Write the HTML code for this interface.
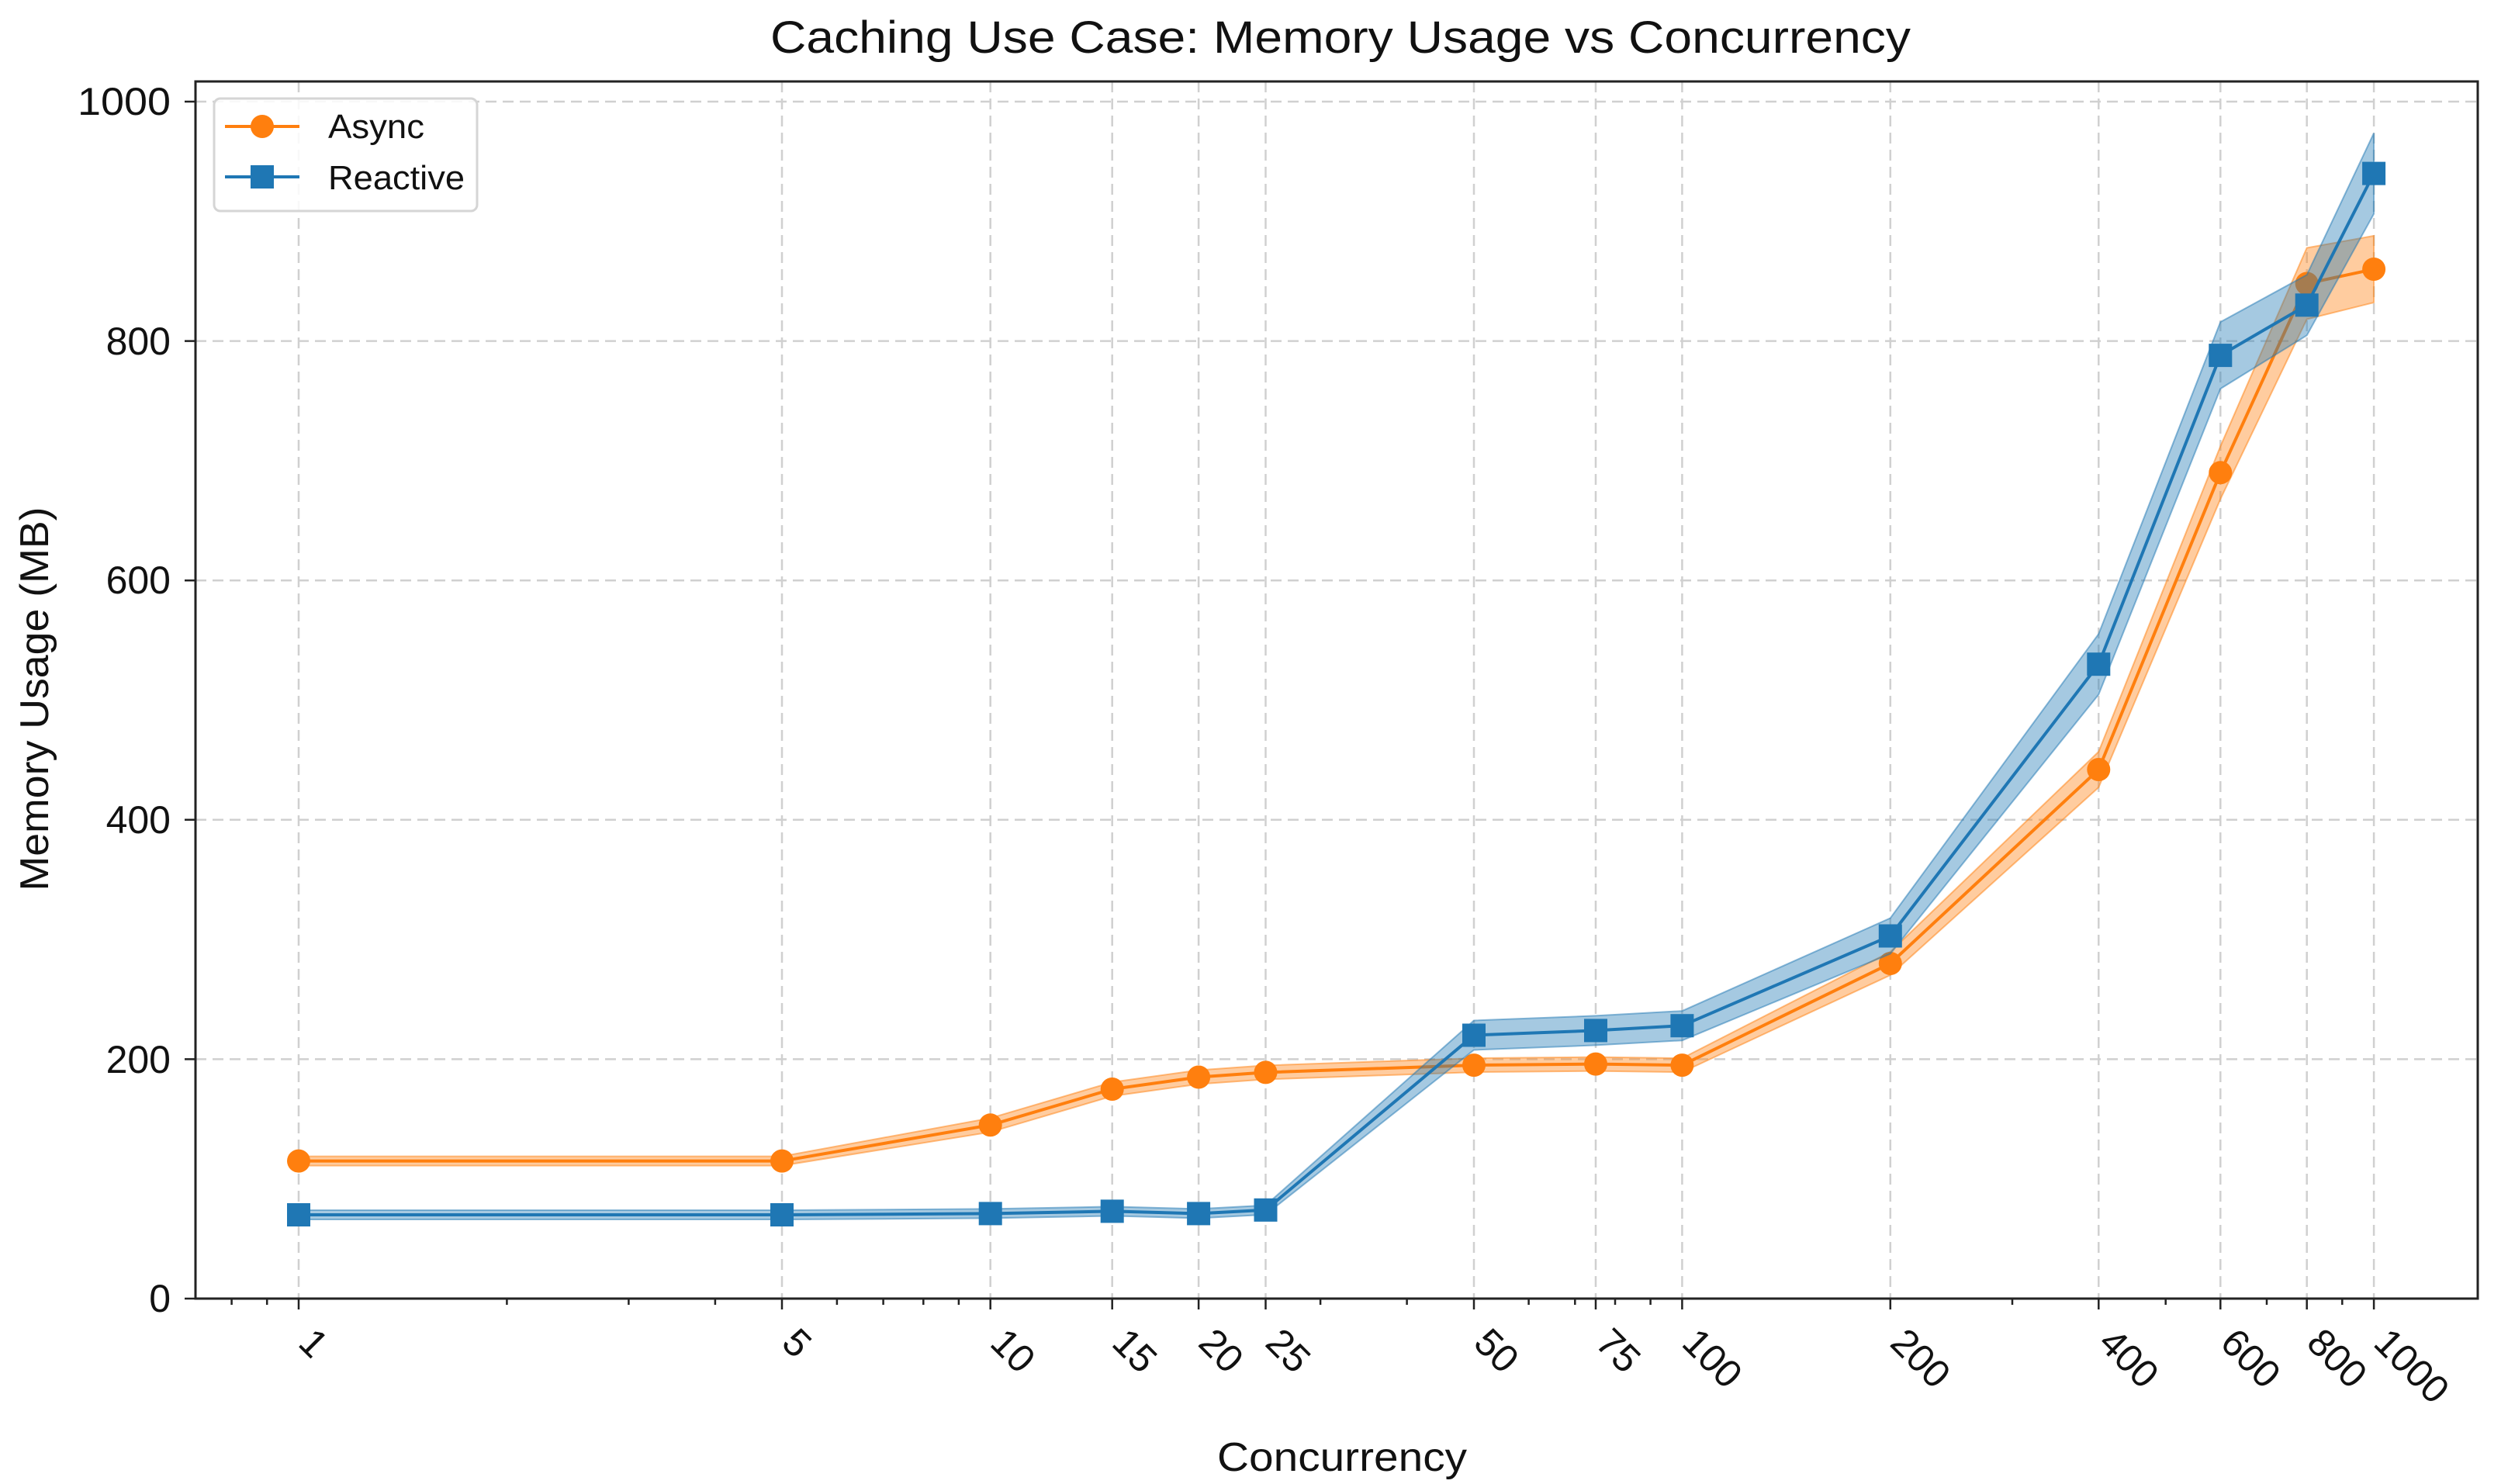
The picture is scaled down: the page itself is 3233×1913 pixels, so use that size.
<!DOCTYPE html>
<html><head><meta charset="utf-8"><style>html,body{margin:0;padding:0;background:#fff}svg{display:block}</style></head><body>
<svg width="3233" height="1913" viewBox="0 0 3233 1913" xmlns="http://www.w3.org/2000/svg" font-family="Liberation Sans, sans-serif">
<rect width="3233" height="1913" fill="#fff"/>
<text x="1728" y="68" font-size="58" text-anchor="middle" fill="#111" textLength="1470" lengthAdjust="spacingAndGlyphs">Caching Use Case: Memory Usage vs Concurrency</text>
<g stroke="#d0d0d0" stroke-width="2.5" stroke-dasharray="14,8" fill="none">
<path d="M252 1365.4H3194M252 1056.8H3194M252 748.2H3194M252 439.6H3194M252 131H3194"/>
<path d="M385 105V1674M1008 105V1674M1276.7 105V1674M1433.7 105V1674M1545.1 105V1674M1631.5 105V1674M1900 105V1674M2057 105V1674M2168.4 105V1674M2436.8 105V1674M2705.3 105V1674M2862.3 105V1674M2973.7 105V1674M3060.1 105V1674"/>
</g>
<polygon fill="#ff7f0e" fill-opacity="0.4" stroke="#ff7f0e" stroke-opacity="0.5" stroke-width="2" points="385,1490.6 1008,1490.6 1276.7,1441.3 1433.7,1395 1545.1,1379.5 1631.5,1373.4 1900,1364.1 2057,1362.6 2168.4,1364.1 2436.8,1227 2705.3,969 2862.3,575.3 2973.7,319.5 3060.1,304 3060.1,390 2973.7,411.5 2862.3,643.3 2705.3,1015 2436.8,1257 2168.4,1382.1 2057,1380.6 1900,1382.1 1631.5,1391.4 1545.1,1397.5 1433.7,1413 1276.7,1459.3 1008,1502.6 385,1502.6"/>
<polyline fill="none" stroke="#ff7f0e" stroke-width="4" points="385,1496.6 1008,1496.6 1276.7,1450.3 1433.7,1404 1545.1,1388.5 1631.5,1382.4 1900,1373.1 2057,1371.6 2168.4,1373.1 2436.8,1242 2705.3,992 2862.3,609.3 2973.7,365.5 3060.1,347"/>
<g fill="#ff7f0e">
<circle cx="385" cy="1496.6" r="15"/><circle cx="1008" cy="1496.6" r="15"/><circle cx="1276.7" cy="1450.3" r="15"/><circle cx="1433.7" cy="1404" r="15"/><circle cx="1545.1" cy="1388.5" r="15"/><circle cx="1631.5" cy="1382.4" r="15"/><circle cx="1900" cy="1373.1" r="15"/><circle cx="2057" cy="1371.6" r="15"/><circle cx="2168.4" cy="1373.1" r="15"/><circle cx="2436.8" cy="1242" r="15"/><circle cx="2705.3" cy="992" r="15"/><circle cx="2862.3" cy="609.3" r="15"/><circle cx="2973.7" cy="365.5" r="15"/><circle cx="3060.1" cy="347" r="15"/>
</g>
<polygon fill="#1f77b4" fill-opacity="0.4" stroke="#1f77b4" stroke-opacity="0.5" stroke-width="2" points="385,1560 1008,1560 1276.7,1558.4 1433.7,1555.4 1545.1,1558.4 1631.5,1553.8 1900,1315.5 2057,1309.4 2168.4,1303.2 2436.8,1183.5 2705.3,817.2 2862.3,415.1 2973.7,354.3 3060.1,171.6 3060.1,275.6 2973.7,432.3 2862.3,501.1 2705.3,895.2 2436.8,1229.5 2168.4,1341.2 2057,1347.4 1900,1353.5 1631.5,1565.8 1545.1,1570.4 1433.7,1567.4 1276.7,1570.4 1008,1572 385,1572"/>
<polyline fill="none" stroke="#1f77b4" stroke-width="4" points="385,1566 1008,1566 1276.7,1564.4 1433.7,1561.4 1545.1,1564.4 1631.5,1559.8 1900,1334.5 2057,1328.4 2168.4,1322.2 2436.8,1206.5 2705.3,856.2 2862.3,458.1 2973.7,393.3 3060.1,223.6"/>
<g fill="#1f77b4">
<rect x="370" y="1551" width="30" height="30"/><rect x="993" y="1551" width="30" height="30"/><rect x="1261.7" y="1549.4" width="30" height="30"/><rect x="1418.7" y="1546.4" width="30" height="30"/><rect x="1530.1" y="1549.4" width="30" height="30"/><rect x="1616.5" y="1544.8" width="30" height="30"/><rect x="1885" y="1319.5" width="30" height="30"/><rect x="2042" y="1313.4" width="30" height="30"/><rect x="2153.4" y="1307.2" width="30" height="30"/><rect x="2421.8" y="1191.5" width="30" height="30"/><rect x="2690.3" y="841.2" width="30" height="30"/><rect x="2847.3" y="443.1" width="30" height="30"/><rect x="2958.7" y="378.3" width="30" height="30"/><rect x="3045.1" y="208.6" width="30" height="30"/>
</g>
<rect x="252" y="105" width="2942" height="1569" fill="none" stroke="#222" stroke-width="3"/>
<g stroke="#222" stroke-width="2.5">
<path d="M252 1674h-14M252 1365.4h-14M252 1056.8h-14M252 748.2h-14M252 439.6h-14M252 131h-14"/>
<path d="M385 1674v14M1008 1674v14M1276.7 1674v14M1433.7 1674v14M1545.1 1674v14M1631.5 1674v14M1900 1674v14M2057 1674v14M2168.4 1674v14M2436.8 1674v14M2705.3 1674v14M2862.3 1674v14M2973.7 1674v14M3060.1 1674v14"/>
<path d="M298.6 1674v8M344.2 1674v8M653.4 1674v8M810.4 1674v8M921.9 1674v8M1078.9 1674v8M1138.6 1674v8M1190.3 1674v8M1235.9 1674v8M1702.1 1674v8M1813.6 1674v8M1970.6 1674v8M2030.3 1674v8M2082 1674v8M2127.6 1674v8M2594 1674v8M2791.7 1674v8M2922 1674v8M3019.3 1674v8"/>
</g>
<g font-size="50" fill="#111" text-anchor="end">
<text x="220" y="1691">0</text><text x="220" y="1383">200</text><text x="220" y="1074">400</text><text x="220" y="765">600</text><text x="220" y="457">800</text><text x="220" y="148" textLength="120" lengthAdjust="spacingAndGlyphs">1000</text>
</g>
<g font-size="50" fill="#111">
<text transform="translate(408,1708) rotate(45)" dominant-baseline="hanging">1</text>
<text transform="translate(1031,1708) rotate(45)" dominant-baseline="hanging">5</text>
<text transform="translate(1299.7,1708) rotate(45)" dominant-baseline="hanging">10</text>
<text transform="translate(1456.7,1708) rotate(45)" dominant-baseline="hanging">15</text>
<text transform="translate(1568.1,1708) rotate(45)" dominant-baseline="hanging">20</text>
<text transform="translate(1654.5,1708) rotate(45)" dominant-baseline="hanging">25</text>
<text transform="translate(1923,1708) rotate(45)" dominant-baseline="hanging">50</text>
<text transform="translate(2080,1708) rotate(45)" dominant-baseline="hanging">75</text>
<text transform="translate(2191.4,1708) rotate(45)" dominant-baseline="hanging">100</text>
<text transform="translate(2459.8,1708) rotate(45)" dominant-baseline="hanging">200</text>
<text transform="translate(2728.3,1708) rotate(45)" dominant-baseline="hanging">400</text>
<text transform="translate(2885.3,1708) rotate(45)" dominant-baseline="hanging">600</text>
<text transform="translate(2996.7,1708) rotate(45)" dominant-baseline="hanging">800</text>
<text transform="translate(3083.1,1708) rotate(45)" dominant-baseline="hanging">1000</text>
</g>
<text x="1730" y="1896" font-size="52" text-anchor="middle" fill="#111" textLength="322" lengthAdjust="spacingAndGlyphs">Concurrency</text>
<text transform="translate(62,901) rotate(-90)" font-size="52" text-anchor="middle" fill="#111" textLength="495" lengthAdjust="spacingAndGlyphs">Memory Usage (MB)</text>
<rect x="276" y="127" width="339" height="145" rx="8" fill="#fff" fill-opacity="0.85" stroke="#d5d5d5" stroke-width="3"/>
<line x1="290" y1="163" x2="386" y2="163" stroke="#ff7f0e" stroke-width="4"/>
<circle cx="338" cy="163" r="15" fill="#ff7f0e"/>
<line x1="290" y1="228" x2="386" y2="228" stroke="#1f77b4" stroke-width="4"/>
<rect x="323" y="213" width="30" height="30" fill="#1f77b4"/>
<text x="423" y="178" font-size="44" fill="#111" textLength="124" lengthAdjust="spacingAndGlyphs">Async</text>
<text x="423" y="244" font-size="44" fill="#111" textLength="176" lengthAdjust="spacingAndGlyphs">Reactive</text>
</svg>
</body></html>
